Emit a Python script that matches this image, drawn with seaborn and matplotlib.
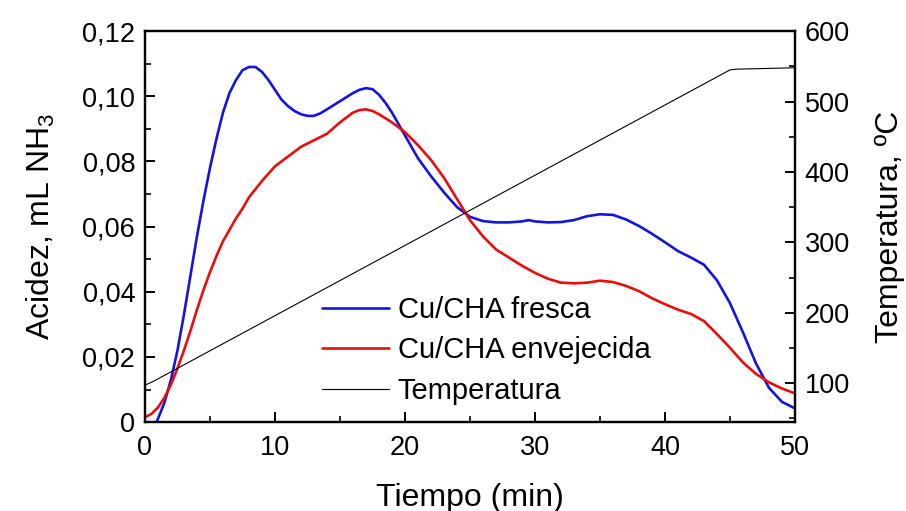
import numpy as np
import pandas as pd
import seaborn as sns
import matplotlib
matplotlib.use("Agg")
import matplotlib.pyplot as plt
from matplotlib.ticker import FixedLocator, MultipleLocator
from matplotlib.lines import Line2D

# datos
tiempo_fresca = [0.9, 1.5, 2, 2.5, 3, 3.5, 4, 4.5, 5, 5.5, 6, 6.5, 7, 7.5, 8, 8.5, 9, 9.5,
                 10, 10.5, 11, 11.5, 12, 12.5, 13, 13.5, 14, 15, 16, 16.5, 17, 17.5, 18,
                 18.5, 19, 19.5, 20, 21, 22, 23, 24, 25, 26, 27, 28, 29, 29.5, 30, 31, 32,
                 33, 34, 35, 36, 37, 38, 39, 40, 41, 42, 43, 44, 45, 46, 47, 48, 49, 50]
acidez_fresca = [0.0, 0.006, 0.013, 0.022, 0.033, 0.045, 0.057, 0.068, 0.078, 0.087, 0.095,
                 0.101, 0.105, 0.108, 0.109, 0.109, 0.1075, 0.105, 0.102, 0.099, 0.097,
                 0.0955, 0.0945, 0.094, 0.094, 0.0948, 0.096, 0.0985, 0.101, 0.102, 0.1025,
                 0.1022, 0.1005, 0.098, 0.095, 0.0915, 0.088, 0.081, 0.0755, 0.0705, 0.066,
                 0.063, 0.0617, 0.0613, 0.0613, 0.0616, 0.062, 0.0616, 0.0613, 0.0614,
                 0.062, 0.0632, 0.0638, 0.0636, 0.0622, 0.0602, 0.0578, 0.0552, 0.0525,
                 0.0505, 0.0483, 0.0435, 0.0365, 0.0275, 0.018, 0.0105, 0.0062, 0.0042]

tiempo_env = [0, 0.5, 1, 1.5, 2, 2.5, 3, 3.5, 4, 4.5, 5, 5.5, 6, 6.5, 7, 7.5, 8, 9, 10, 11,
              12, 13, 14, 15, 16, 16.5, 17, 17.5, 18, 19, 20, 21, 22, 23, 24, 25, 26, 27,
              28, 29, 30, 31, 32, 33, 34, 35, 36, 37, 38, 39, 40, 41, 42, 43, 44, 45, 46,
              47, 48, 49, 50]
acidez_env = [0.0015, 0.0025, 0.0045, 0.0075, 0.0115, 0.0165, 0.022, 0.028, 0.0345, 0.0405,
              0.046, 0.051, 0.0555, 0.059, 0.0625, 0.0655, 0.069, 0.074, 0.0785, 0.0815,
              0.0845, 0.0865, 0.0885, 0.092, 0.095, 0.0958, 0.096, 0.0955, 0.0945, 0.092,
              0.089, 0.085, 0.0805, 0.075, 0.0685, 0.062, 0.057, 0.053, 0.0505, 0.048,
              0.0458, 0.044, 0.0428, 0.0426, 0.0428, 0.0434, 0.043, 0.0418, 0.0402, 0.038,
              0.0362, 0.0345, 0.0332, 0.031, 0.027, 0.0228, 0.0183, 0.0148, 0.0122, 0.0103,
              0.0088]

tiempo_temp = [0, 0.7, 45, 45.5, 50]
temperatura = [97, 103, 545, 546, 548]

yticks_izq = [0, 0.02, 0.04, 0.06, 0.08, 0.10, 0.12]
ylabels_izq = ["0", "0,02", "0,04", "0,06", "0,08", "0,10", "0,12"]
yticks_der = [100, 200, 300, 400, 500, 600]
xticks = [0, 10, 20, 30, 40, 50]

sns.set_style("ticks")
plt.rcParams['font.family'] = ['Liberation Sans', 'DejaVu Sans']
plt.rcParams['mathtext.fontset'] = 'custom'
plt.rcParams['mathtext.rm'] = 'Liberation Sans'
plt.rcParams['text.color'] = 'black'
plt.rcParams['axes.labelcolor'] = 'black'
plt.rcParams['xtick.color'] = 'black'
plt.rcParams['ytick.color'] = 'black'

fig = plt.figure(figsize=(9.06, 5.11), dpi=100)
ax = fig.add_axes([0.160, 0.174, 0.7175, 0.765])
ax2 = ax.twinx()

sns.lineplot(x=tiempo_fresca, y=acidez_fresca, ax=ax, color="#1414dc", lw=1.9, sort=False)
sns.lineplot(x=tiempo_env, y=acidez_env, ax=ax, color="#ec0c0c", lw=1.9, sort=False)
sns.lineplot(x=tiempo_temp, y=temperatura, ax=ax2, color="black", lw=0.8, sort=False)

ax.set_xlim(0, 50)
ax.set_ylim(0, 0.12)
ax2.set_ylim(44.6, 600)

ax.xaxis.set_major_locator(FixedLocator(xticks))
ax.xaxis.set_minor_locator(MultipleLocator(5))
ax.yaxis.set_major_locator(FixedLocator(yticks_izq))
ax.set_yticklabels(ylabels_izq)
ax.yaxis.set_minor_locator(MultipleLocator(0.01))
ax2.yaxis.set_major_locator(FixedLocator(yticks_der))
ax2.yaxis.set_minor_locator(MultipleLocator(50))

for a in (ax, ax2):
    a.tick_params(which='major', direction='in', length=7, width=1.4, labelsize=19.5, pad=7,
                  colors='black')
    a.tick_params(which='minor', direction='in', length=4, width=1.2, colors='black')
    for s in a.spines.values():
        s.set_linewidth(1.6)
        s.set_color('black')
ax.tick_params(axis='x', pad=9)
ax.tick_params(axis='both', which='both', top=False, right=False)
ax2.tick_params(axis='y', which='both', left=False, right=True)

ax.set_xlabel("Tiempo (min)", fontsize=23, labelpad=16, color='black')
ax.set_ylabel(r"Acidez, mL NH$\mathregular{_3}$", fontsize=23, labelpad=18, color='black')
ax2.set_ylabel("Temperatura, ºC", fontsize=23, labelpad=18, color='black')

handles = [Line2D([], [], color="#1414dc", lw=1.9),
           Line2D([], [], color="#ec0c0c", lw=1.9),
           Line2D([], [], color="black", lw=0.8)]
labels = ["Cu/CHA fresca", "Cu/CHA envejecida", "Temperatura"]
ax2.legend(handles, labels, loc='upper left', bbox_to_anchor=(0.272, 0.322),
           frameon=False, fontsize=21, handlelength=2.3, handletextpad=0.3,
           labelspacing=0.42, borderpad=0, borderaxespad=0, labelcolor='black')

fig.savefig("out.png", dpi=100)
